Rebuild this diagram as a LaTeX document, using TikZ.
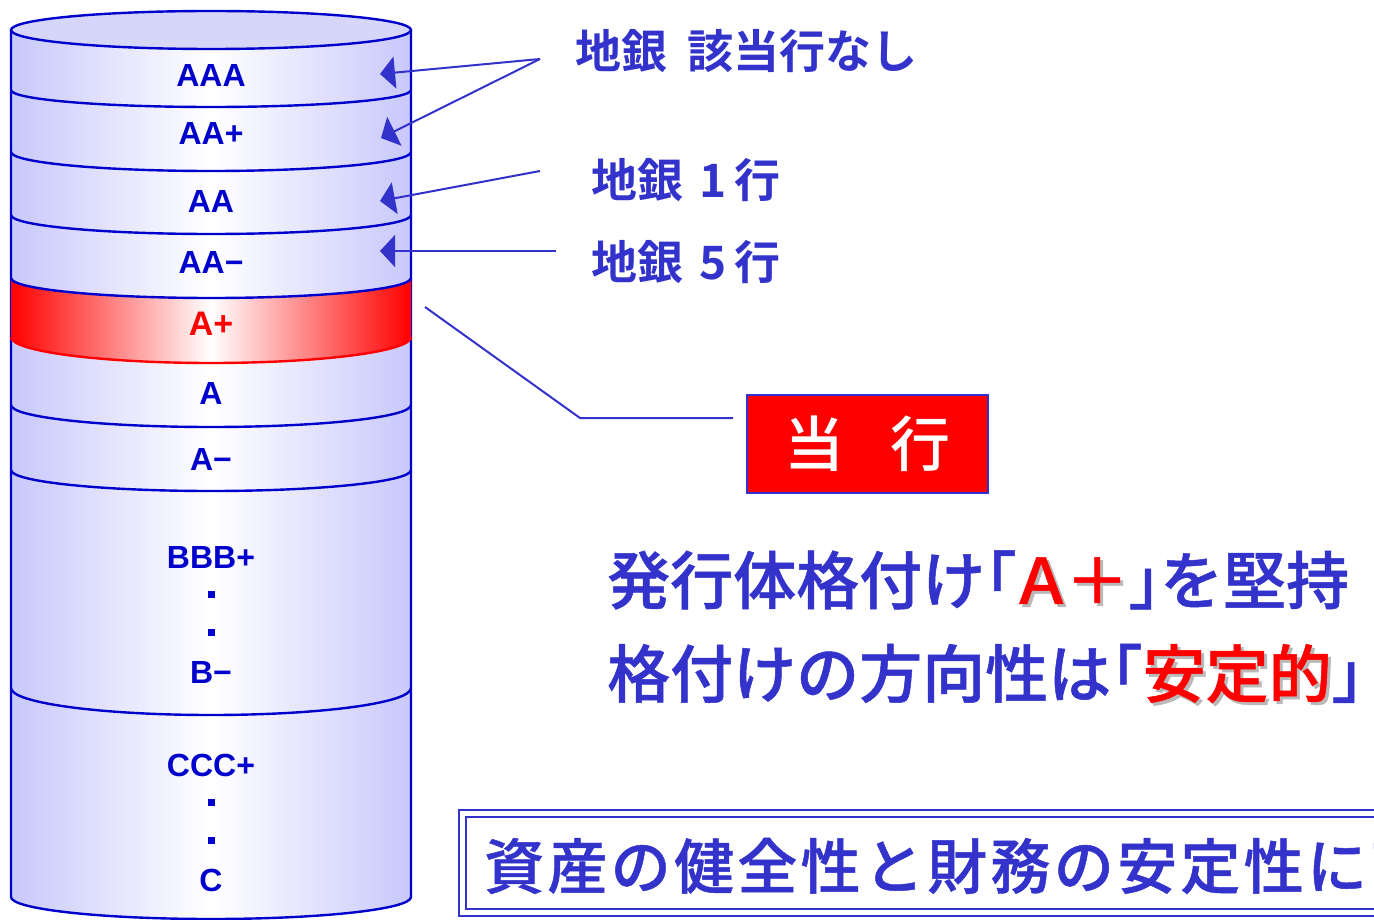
\documentclass[tikz,border=0pt]{standalone}
\usepackage{fontspec}
\setmainfont{Liberation Sans}
\newfontfamily\jp{Noto Sans CJK JP Medium}
\newfontfamily\jpb{Noto Sans CJK JP Bold}
\newfontfamily\jpm{Noto Sans CJK JP Medium}[RawFeature=+halt, BoldFont={Noto Sans CJK JP Medium}, BoldFeatures={FakeBold=0.8}]
\newfontfamily\jpmp{Noto Sans CJK JP Medium}[RawFeature=+palt, BoldFont={Noto Sans CJK JP Medium}, BoldFeatures={FakeBold=0.8}]
\newfontfamily\jpsp{Noto Sans CJK JP Medium}[LetterSpace=5.5, BoldFont={Noto Sans CJK JP Medium}, BoldFeatures={FakeBold=0.8}]
\usetikzlibrary{arrows.meta}
\definecolor{cylblue}{RGB}{0,0,204}
\definecolor{txtblue}{RGB}{51,51,204}
\definecolor{cyledge}{RGB}{200,200,252}
\definecolor{toptint}{RGB}{214,214,250}
\definecolor{shadowgray}{RGB}{185,185,185}
\newcommand{\redshadow}[1]{\leavevmode\rlap{\hspace{3pt}\raisebox{-3pt}{\textcolor{shadowgray}{#1}}}\textcolor{red}{#1}}
\begin{document}
\begin{tikzpicture}[x=1pt,y=-1pt,
  cyl/.style={draw=cylblue, line width=2.4pt},
  lbl/.style={font=\bfseries\fontsize{32}{32}\selectfont, text=cylblue, inner sep=0pt},
  dotsq/.style={fill=cylblue, minimum size=7pt, inner sep=0pt},
  jnote/.style={font=\jpb\fontsize{46}{46}\selectfont, text=txtblue, inner sep=0pt, anchor=west},
  big/.style={font=\jpm\bfseries\fontsize{63}{63}\selectfont, text=txtblue, inner sep=0pt, anchor=west},
  arr/.style={draw=txtblue, line width=2pt, -{Triangle[length=15pt,width=32pt]}},
  link/.style={draw=txtblue, line width=2pt},
  dangbox/.style={fill=red, draw=txtblue, line width=2.5pt, minimum width=241pt, minimum height=98pt, inner sep=0pt, text=white, font=\jp\fontsize{60}{60}\selectfont},
  dblline/.style={draw=txtblue, line width=2.5pt}
]
\useasboundingbox (0,0) rectangle (1374,920);
\clip (0,0) rectangle (1374,920);

% cylinder body
\shade[left color=cyledge, right color=cyledge, middle color=white]
  (11,30) -- (11,897) .. controls (11,{897+0.552*22}) and (100.6,919) .. (211,919)
  .. controls (321.4,919) and (411,{897+0.552*22}) .. (411,897) -- (411,30) -- cycle;
\draw[cyl] (11,30) -- (11,897) .. controls (11,{897+0.552*22}) and (100.6,919) .. (211,919)
  .. controls (321.4,919) and (411,{897+0.552*22}) .. (411,897) -- (411,30);

% red band A+
\shade[left color=red, right color=red, middle color=white]
  (11,278) .. controls (11,{278+0.552*20}) and (100.6,298) .. (211,298)
  .. controls (321.4,298) and (411,{278+0.552*20}) .. (411,278)
  -- (411,337) .. controls (411,{337+0.552*26}) and (321.4,363) .. (211,363)
  .. controls (100.6,363) and (11,{337+0.552*26}) .. (11,337) -- cycle;
\draw[draw=red, line width=2.4pt]
  (11,337) .. controls (11,{337+0.552*26}) and (100.6,363) .. (211,363)
  .. controls (321.4,363) and (411,{337+0.552*26}) .. (411,337);

% separators
\foreach \e/\d in {90/17,152/19,215/19,278/20,405/22,470/21,688/27}
  \draw[cyl] (11,\e) .. controls (11,{\e+0.552*\d}) and (100.6,{\e+\d}) .. (211,{\e+\d})
    .. controls (321.4,{\e+\d}) and (411,{\e+0.552*\d}) .. (411,\e);

% top
\draw[cyl, fill=toptint] (211,30) ellipse [x radius=200, y radius=19];

% labels
\node[lbl] (lAAA) at (211,75) {AAA};
\node[lbl] (lAAp) at (211,133) {AA+};
\node[lbl] (lAA) at (211,201) {AA};
\node[lbl] (lAAm) at (211,262) {AA−};
\node[lbl, text=red, font=\bfseries\fontsize{34}{34}\selectfont] (lAp) at (211,324) {A+};
\node[lbl] (lA) at (211,393) {A};
\node[lbl] (lAm) at (211,459) {A−};
\node[lbl] (lBBBp) at (211,557) {BBB+};
\node[dotsq] (dB1) at (211,594) {};
\node[dotsq] (dB2) at (211,632) {};
\node[lbl] (lBm) at (211,672) {B−};
\node[lbl] (lCCCp) at (211,765) {CCC+};
\node[dotsq] (dC1) at (211,802) {};
\node[dotsq] (dC2) at (211,840) {};
\node[lbl] (lC) at (211,880) {C};

% right-hand notes
\node[jnote] (n1) at (575,51) {地銀\hspace{20pt}該当行なし};
\node[jnote] (n2) at (591,180) {地銀\hspace{16pt}1\hspace{8pt}行};
\node[jnote] (n3) at (591,262) {地銀\hspace{16pt}5\hspace{8pt}行};

\coordinate (s1) at (540,59);
\coordinate (h1) at (380,74);
\coordinate (h2) at (381,138);
\coordinate (s3) at (540,171);
\coordinate (h3) at (380,201);
\coordinate (s4) at (556,251);
\coordinate (h4) at (380,251);
\draw[arr] (s1) -- (h1);
\draw[arr] (s1) -- (h2);
\draw[arr] (s3) -- (h3);
\draw[arr] (s4) -- (h4);

% tokou box and link
\node[dangbox] (tokou) at (867.5,444) {当\hspace{47pt}行};
\coordinate (ap) at (425,307);
\coordinate (bend) at (580,418);
\coordinate (lend) at (733,418);
\draw[link] (ap) -- (bend) -- (lend);

% main statements
\node[big] (l1) at (607,580) {発行体格付け「{\jpmp\bfseries\redshadow{Ａ＋}}」を堅持};
\node[big] (l2) at (607,675) {格付けの方向性は「\redshadow{安定的}」};

% bottom box
\draw[dblline] (459,810) rectangle (1400,916);
\draw[dblline] (466,817) rectangle (1400,909);
\node[inner sep=0pt, anchor=west, text=txtblue, font=\jpsp\bfseries\fontsize{60}{60}\selectfont] (bot) at (484,866) {資産の健全性と財務の安定性に高};
\end{tikzpicture}
\end{document}
